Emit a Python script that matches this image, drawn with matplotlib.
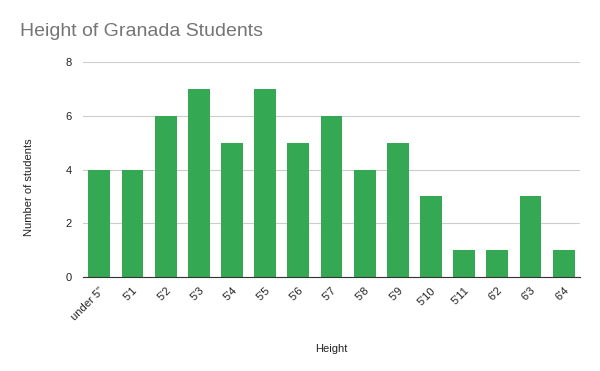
import matplotlib
matplotlib.use("Agg")
import matplotlib.pyplot as plt

categories = ["under 5\"", "5'1", "5'2", "5'3", "5'4", "5'5", "5'6", "5'7", "5'8", "5'9", "5'10", "5'11", "6'2", "6'3", "6'4"]
counts = [4, 4, 6, 7, 5, 7, 5, 6, 4, 5, 3, 1, 1, 3, 1]

plt.rcParams['font.family'] = ['Liberation Sans', 'DejaVu Sans']
fig = plt.figure(figsize=(6, 3.71), dpi=100)
ax = fig.add_axes([0.138, 0.253, 0.829, 0.58])
x = list(range(len(categories)))
ax.bar(x, counts, width=0.66, color="#34a853", zorder=3)
ax.set_xlim(-0.5, len(categories) - 0.5)
ax.set_ylim(0, 8)
ax.set_yticks([0, 2, 4, 6, 8])
ax.yaxis.grid(True, color="#cccccc", linewidth=0.8, zorder=0)
for s in ["top", "right", "left"]:
    ax.spines[s].set_visible(False)
ax.spines["bottom"].set_color("#333333")
ax.spines["bottom"].set_zorder(4)
ax.tick_params(axis="both", length=0, labelsize=8, colors="#222222")
ax.tick_params(axis="y", pad=8)
ax.tick_params(axis="x", pad=6)
ax.set_xticks(x)
ax.set_xticklabels(categories, rotation=45, ha="right", rotation_mode="anchor")
ax.set_xlabel("Height", fontsize=8, color="#222222", labelpad=16)
ax.set_ylabel("Number of students", fontsize=8, color="#222222")
ax.yaxis.set_label_coords(-0.098, 0.42)
fig.text(0.033, 0.915, "Height of Granada Students", fontsize=14, color="#757575", va="center")
fig.savefig("out.png")
